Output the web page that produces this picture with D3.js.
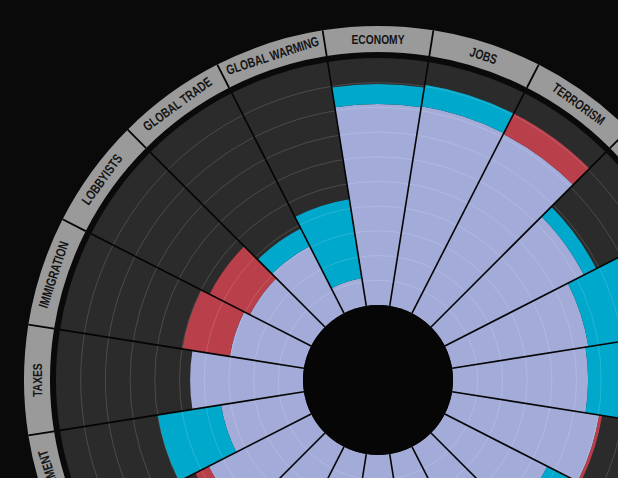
<!DOCTYPE html>
<html>
<head>
<meta charset="utf-8">
<script src="https://cdn.jsdelivr.net/npm/d3@7"></script>
<style>
  body { margin: 0; background: #0a0a0a; overflow: hidden; }
  .label { font-family: "Liberation Sans", Arial, sans-serif; font-weight: bold; font-size: 13.5px; fill: #141414; }
</style>
</head>
<body>
<script>
const categories = ["ECONOMY", "JOBS", "TERRORISM", "HEALTH CARE", "EDUCATION", "DEFICIT",
                    "ENERGY", "WALL STREET", "WARS", "SOCIAL SECURITY", "MORAL VALUES", "CRIME",
                    "GUNS", "CORRUPTION", "GOVERNMENT", "TAXES", "IMMIGRATION", "LOBBYISTS",
                    "GLOBAL TRADE", "GLOBAL WARMING"];

// share of people naming each issue, previous survey vs latest survey
const lastYear = [81.4, 81.8, 90.7, 63.2, 55.9, 54.7, 61.5, 46.6, 50, 44,
                  47, 40, 52, 52.6, 34, 45.7, 49.8, 46.2, 30.4, 11.3];
const thisYear = [89.5, 90.7, 81.4, 68.8, 80, 76, 60.3, 60, 55, 48,
                  43, 52, 49, 46.6, 59.9, 45.7, 30.4, 27.9, 38.5, 43.7];

const gridTicks = [10, 20, 30, 40, 50, 60, 70, 80, 90];

const w = 618,
      h = 478,
      cx = 378,
      cy = 380,
      innerR = 75,
      outerR = 322,
      ringIn = 328,
      ringOut = 354;

const data = categories.map((c, i) => ({
  name: c,
  last: lastYear[i],
  now: thisYear[i]
}));

const svg = d3.select("body")
              .append("svg")
              .attr("width", w)
              .attr("height", h);

svg.append("rect")
   .attr("width", w)
   .attr("height", h)
   .attr("fill", "#0a0a0a");

const g = svg.append("g")
             .attr("transform", "translate(" + cx + "," + cy + ")");

const angle = d3.scaleBand()
                .domain(categories)
                .range([-Math.PI / categories.length, 2 * Math.PI - Math.PI / categories.length]);

const rScale = d3.scaleLinear()
                 .domain([0, 100])
                 .range([innerR, outerR]);

const arc = d3.arc();
const a0 = d => angle(d.name);
const a1 = d => angle(d.name) + angle.bandwidth();

// label ring
g.selectAll(".ring")
 .data(data)
 .enter()
 .append("path")
 .attr("class", "ring")
 .attr("d", d => arc({innerRadius: ringIn, outerRadius: ringOut, startAngle: a0(d), endAngle: a1(d)}))
 .attr("fill", "#9a9a9a");

// dark background sectors
g.selectAll(".bg")
 .data(data)
 .enter()
 .append("path")
 .attr("class", "bg")
 .attr("d", d => arc({innerRadius: innerR, outerRadius: outerR, startAngle: a0(d), endAngle: a1(d)}))
 .attr("fill", "#2b2b2b");

// base bar
g.selectAll(".base")
 .data(data)
 .enter()
 .append("path")
 .attr("class", "base")
 .attr("d", d => arc({innerRadius: innerR, outerRadius: rScale(Math.min(d.last, d.now)), startAngle: a0(d), endAngle: a1(d)}))
 .attr("fill", "#a3acd9");

// change band
g.selectAll(".change")
 .data(data)
 .enter()
 .append("path")
 .attr("class", "change")
 .attr("d", d => arc({innerRadius: rScale(Math.min(d.last, d.now)), outerRadius: rScale(Math.max(d.last, d.now)), startAngle: a0(d), endAngle: a1(d)}))
 .attr("fill", d => d.now >= d.last ? "#00a8cc" : "#b93f4a");

// grid circles
g.selectAll(".grid")
 .data(gridTicks)
 .enter()
 .append("circle")
 .attr("class", "grid")
 .attr("r", d => rScale(d))
 .attr("fill", "none")
 .attr("stroke", "#ffffff")
 .attr("stroke-opacity", 0.15)
 .attr("stroke-width", 1);

// sector dividers
g.selectAll(".divider")
 .data(data)
 .enter()
 .append("line")
 .attr("class", "divider")
 .attr("x1", d => innerR * Math.sin(a0(d)))
 .attr("y1", d => -innerR * Math.cos(a0(d)))
 .attr("x2", d => outerR * Math.sin(a0(d)))
 .attr("y2", d => -outerR * Math.cos(a0(d)))
 .attr("stroke", "#050505")
 .attr("stroke-width", 1.6);

g.selectAll(".ringDivider")
 .data(data)
 .enter()
 .append("line")
 .attr("class", "ringDivider")
 .attr("x1", d => ringIn * Math.sin(a0(d)))
 .attr("y1", d => -ringIn * Math.cos(a0(d)))
 .attr("x2", d => ringOut * Math.sin(a0(d)))
 .attr("y2", d => -ringOut * Math.cos(a0(d)))
 .attr("stroke", "#050505")
 .attr("stroke-width", 1.8);

// center hole
g.append("circle")
 .attr("r", innerR)
 .attr("fill", "#060606");

// labels
const labelR = (ringIn + ringOut) / 2;
g.selectAll(".label")
 .data(data)
 .enter()
 .append("text")
 .attr("class", "label")
 .attr("text-anchor", "middle")
 .attr("dominant-baseline", "central")
 .attr("transform", d => {
   const mid = a0(d) + angle.bandwidth() / 2;
   const deg = mid * 180 / Math.PI;
   const flip = deg > 120 && deg < 240;
   return "rotate(" + deg + ") translate(0," + (-labelR) + ")" + (flip ? " rotate(180)" : "") + " scale(0.76,1)";
 })
 .text(d => d.name);
</script>
</body>
</html>
